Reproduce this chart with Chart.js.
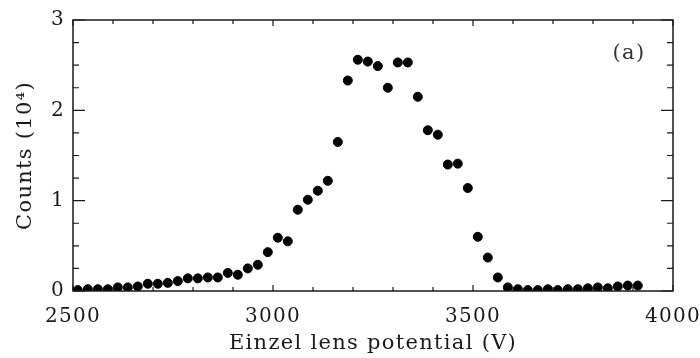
<!DOCTYPE html>
<html>
<head>
<meta charset="utf-8">
<script src="https://cdn.jsdelivr.net/npm/chart.js@4/dist/chart.umd.min.js"></script>
<style>
    html, body { margin: 0; padding: 0; background: #fff; }
</style>
</head>
<body>
<canvas id="chart" width="700" height="358"></canvas>
<script>
/* Einzel lens scan, panel (a): counts in units of 10^4 */
const potentials = [
    2512, 2537, 2562, 2587, 2612, 2637, 2662, 2687, 2712, 2737,
    2762, 2787, 2812, 2837, 2862, 2887, 2912, 2937, 2962, 2987,
    3012, 3037, 3062, 3087, 3112, 3137, 3162, 3187, 3212, 3237,
    3262, 3287, 3312, 3337, 3362, 3387, 3412, 3437, 3462, 3487,
    3512, 3537, 3562, 3587, 3612, 3637, 3662, 3687, 3712, 3737,
    3762, 3787, 3812, 3837, 3862, 3887, 3912,
];
const counts = [
    0.01, 0.02, 0.02, 0.02, 0.04, 0.04, 0.05, 0.08, 0.08, 0.09,
    0.11, 0.14, 0.14, 0.15, 0.15, 0.20, 0.18, 0.25, 0.29, 0.43,
    0.59, 0.55, 0.90, 1.01, 1.11, 1.22, 1.65, 2.33, 2.56, 2.54,
    2.49, 2.25, 2.53, 2.53, 2.15, 1.78, 1.73, 1.40, 1.41, 1.14,
    0.60, 0.37, 0.15, 0.04, 0.02, 0.01, 0.01, 0.02, 0.01, 0.02,
    0.02, 0.03, 0.04, 0.03, 0.05, 0.06, 0.06,
];
const xTicks = [2500, 3000, 3500, 4000];
const yTicks = [0, 1, 2, 3];

const INK = "#1a1a1a";
const FONT = "'DejaVu Serif', serif";

/* Frame and inward ticks on all four sides, like the original plot */
const framePlugin = {
    id: "frame",
    beforeDraw(chart) {
        /* the scanned figure uses a wide, loosely set serif */
        chart.ctx.letterSpacing = "1.3px";
    },
    afterDatasetsDraw(chart) {
        const { ctx, chartArea: a, scales: { x, y } } = chart;
        ctx.save();
        ctx.strokeStyle = INK;
        ctx.lineWidth = 1.5;
        ctx.strokeRect(a.left, a.top, a.right - a.left, a.bottom - a.top);
        ctx.lineWidth = 1.2;
        ctx.beginPath();
        for (let v = 2500; v <= 4000; v += 100) {
            const px = x.getPixelForValue(v);
            const len = v % 500 === 0 ? 6 : 4;
            ctx.moveTo(px, a.bottom); ctx.lineTo(px, a.bottom - len);
            ctx.moveTo(px, a.top); ctx.lineTo(px, a.top + len);
        }
        for (let v = 0; v <= 3; v += 0.25) {
            const py = y.getPixelForValue(v);
            const len = v % 1 === 0 ? 12 : 6;
            ctx.moveTo(a.left, py); ctx.lineTo(a.left + len, py);
            ctx.moveTo(a.right, py); ctx.lineTo(a.right - len, py);
        }
        ctx.stroke();
        /* panel tag */
        ctx.fillStyle = "#333";
        ctx.font = "21px " + FONT;
        ctx.textAlign = "center";
        ctx.textBaseline = "middle";
        ctx.fillText("(a)", 629, 54);
        ctx.restore();
    },
};

new Chart(document.getElementById("chart"), {
    type: "scatter",
    data: {
        datasets: [{
            data: potentials.map((p, i) => ({ x: p, y: counts[i] })),
            backgroundColor: "#000",
            borderColor: "#000",
            pointRadius: 4.5,
            pointHoverRadius: 4.5,
        }],
    },
    options: {
        responsive: false,
        animation: false,
        devicePixelRatio: 1,
        layout: { padding: { top: 11, right: 27, left: 0, bottom: 0 } },
        plugins: { legend: { display: false }, tooltip: { enabled: false } },
        scales: {
            x: {
                type: "linear",
                min: 2500,
                max: 4000,
                grid: { display: false, drawTicks: false },
                border: { display: false },
                afterBuildTicks: (s) => { s.ticks = xTicks.map(v => ({ value: v })); },
                afterFit: (s) => {
                    s.height = 67;
                    s.paddingLeft = 0;
                    s.paddingRight = 0;
                },
                ticks: {
                    color: INK,
                    padding: 14,
                    maxRotation: 0,
                    callback: (v) => String(v),
                    font: { family: FONT, size: 20 },
                },
                title: {
                    display: true,
                    text: "Einzel lens potential (V)",
                    color: INK,
                    padding: { top: 0, bottom: 2 },
                    font: { family: FONT, size: 21 },
                },
            },
            y: {
                min: 0,
                max: 3,
                grid: { display: false, drawTicks: false },
                border: { display: false },
                afterBuildTicks: (s) => { s.ticks = yTicks.map(v => ({ value: v })); },
                afterFit: (s) => { s.width = 73; },
                ticks: {
                    color: INK,
                    padding: 8,
                    callback: (v) => String(v),
                    font: { family: FONT, size: 20 },
                },
                title: {
                    display: true,
                    text: "Counts (10\u2074)",
                    color: INK,
                    padding: { top: 13, bottom: 0 },
                    font: { family: FONT, size: 21 },
                },
            },
        },
    },
    plugins: [framePlugin],
});
</script>
</body>
</html>
